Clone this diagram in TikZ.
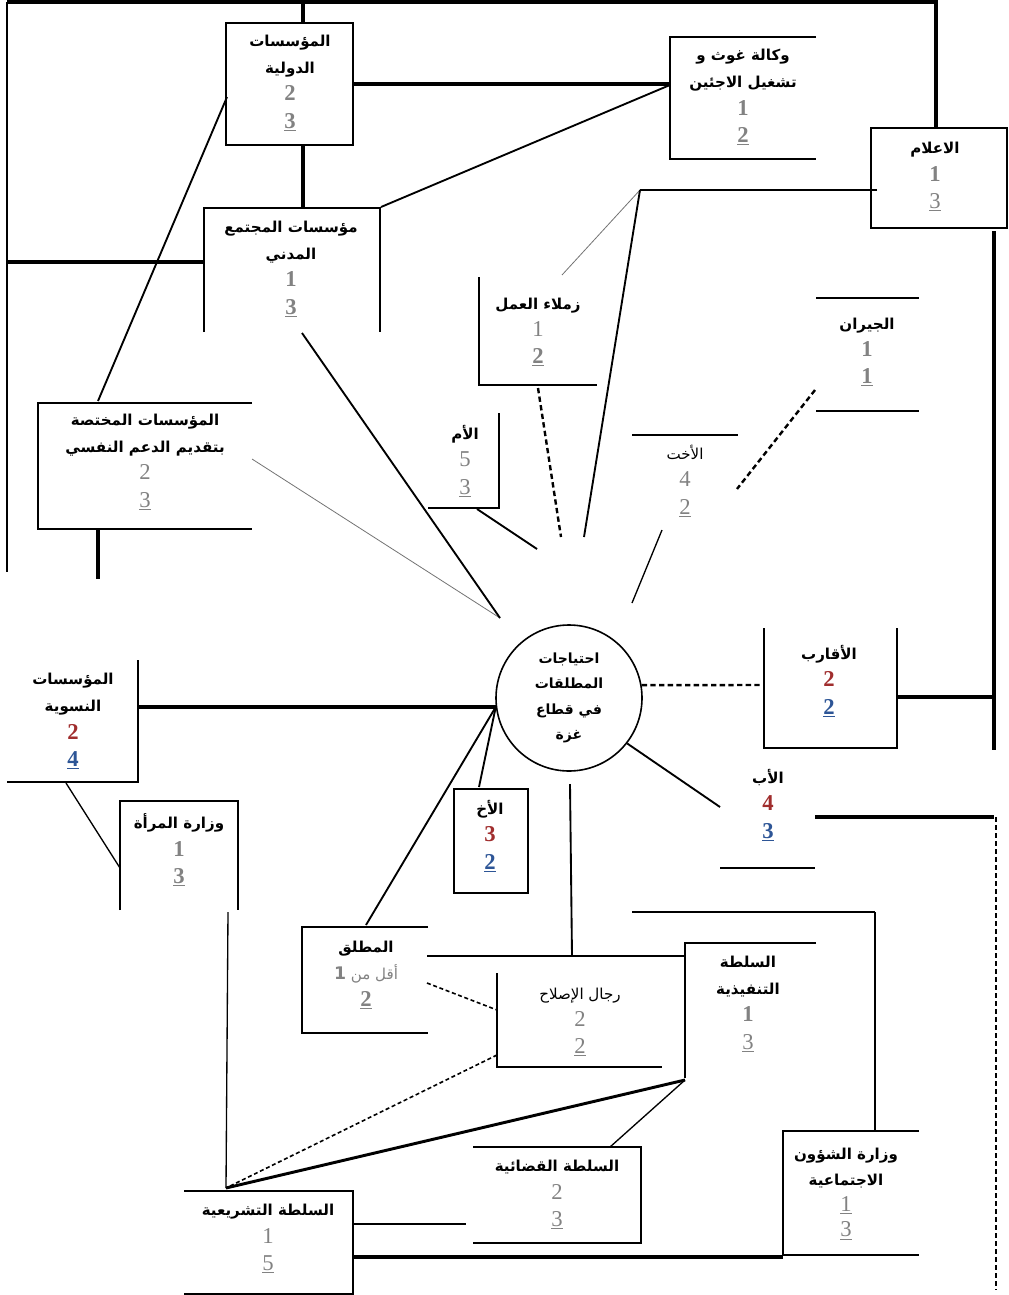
\documentclass[tikz,border=0pt]{standalone}
\usepackage{fontspec}
\setmainfont{Liberation Serif}
\newfontfamily\arabicfont[Script=Arabic]{DejaVu Sans}
\TeXXeTstate=1
\definecolor{ngray}{RGB}{130,130,130}
\definecolor{nred}{RGB}{160,45,45}
\definecolor{nblue}{RGB}{45,85,150}
\newcommand\ARt[1]{\beginR #1\endR}
\newcommand\numf{\rmfamily\fontsize{17}{20.5}\selectfont}
\newcommand\ngb[1]{{\numf\color{ngray}\bfseries #1}}
\newcommand\ngr[1]{{\numf\color{ngray}\mdseries #1}}
\newcommand\ngu[1]{{\numf\color{ngray}\bfseries\underline{#1}}}
\newcommand\ngur[1]{{\numf\color{ngray}\mdseries\underline{#1}}}
\newcommand\nrb[1]{{\numf\color{nred}\bfseries #1}}
\newcommand\nbu[1]{{\numf\color{nblue}\bfseries\underline{#1}}}
\tikzset{
  lbl/.style={align=center, inner sep=0pt, font=\arabicfont\bfseries\fontsize{11.3}{20.5}\selectfont},
  lblr/.style={align=center, inner sep=0pt, font=\arabicfont\mdseries\fontsize{11.3}{20.5}\selectfont},
  boxl/.style={line width=1.7pt},
  thk/.style={line width=2.8pt},
  med/.style={line width=1.4pt},
  thn/.style={line width=1pt},
  hair/.style={line width=0.6pt, draw=black!55},
  dsh/.style={line width=1.8pt, dash pattern=on 4pt off 2.5pt},
  dshthin/.style={line width=1.2pt, dash pattern=on 3pt off 2pt},
}
\begin{document}
\begin{tikzpicture}[x=0.75pt,y=-0.75pt]
\useasboundingbox (0,0) rectangle (1008,1295);

% ---------- text nodes ----------
\node[lbl] (dawliya) at (290,83) {\ARt{المؤسسات}\\\ARt{الدولية}\\\ngb{2}\\\ngu{3}};
\node[lbl] (wakala) at (743,97) {\ARt{وكالة غوث و}\\\ARt{تشغيل الاجئين}\\\ngb{1}\\\ngu{2}};
\node[lbl] (ielam) at (935,177) {\ARt{الاعلام}\\\ngb{1}\\\ngur{3}};
\node[lbl] (mujtama) at (291,269) {\ARt{مؤسسات المجتمع}\\\ARt{المدني}\\\ngb{1}\\\ngu{3}};
\node[lbl] (zumala) at (538,332) {\ARt{زملاء العمل}\\\ngr{1}\\\ngu{2}};
\node[lbl] (jiran) at (867,352) {\ARt{الجيران}\\\ngb{1}\\\ngu{1}};
\node[lbl] (mukhtassa) at (145,462) {\ARt{المؤسسات المختصة}\\\ARt{بتقديم الدعم النفسي}\\\ngr{2}\\\ngur{3}};
\node[lbl] (umm) at (465,461) {\ARt{الأم}\\\ngr{5}\\\ngur{3}};
\node[lblr] (ukht) at (685,481) {\ARt{الأخت}\\\ngr{4}\\\ngur{2}};
\node[lbl, circle, draw, line width=1.2pt, minimum size=109.5pt, font=\arabicfont\bfseries\fontsize{10.5}{19}\selectfont] (needs) at (569,698) {\ARt{احتياجات}\\\ARt{المطلقات}\\\ARt{في قطاع}\\\ARt{غزة}};
\node[lbl] (aqarib) at (829,681) {\ARt{الأقارب}\\\nrb{2}\\\nbu{2}};
\node[lbl] (nisawiya) at (73,721) {\ARt{المؤسسات}\\\ARt{النسوية}\\\nrb{2}\\\nbu{4}};
\node[lbl] (ab) at (768,805) {\ARt{الأب}\\\nrb{4}\\\nbu{3}};
\node[lbl] (akh) at (490,836) {\ARt{الأخ}\\\nrb{3}\\\nbu{2}};
\node[lbl] (mara) at (179,850) {\ARt{وزارة المرأة}\\\ngb{1}\\\ngu{3}};
\node[lbl] (mutallaq) at (366,975) {\ARt{المطلق}\\{\mdseries\color{ngray}\ARt{أقل من {\bfseries\fontsize{13}{20.5}\selectfont 1}}}\\\ngu{2}};
\node[lblr] (islah) at (580,1022) {\ARt{رجال الإصلاح}\\\ngr{2}\\\ngur{2}};
\node[lbl] (tanfidh) at (748,1004) {\ARt{السلطة}\\\ARt{التنفيذية}\\\ngb{1}\\\ngur{3}};
\node[lbl] (qadaiya) at (557,1195) {\ARt{السلطة القضائية}\\\ngr{2}\\\ngur{3}};
\node[lbl, font=\arabicfont\bfseries\fontsize{11.3}{19.3}\selectfont] (shuoon) at (846,1194) {\ARt{وزارة الشؤون}\\\ARt{الاجتماعية}\\\ngur{1}\\\ngur{3}};
\node[lbl] (tashri) at (268,1239) {\ARt{السلطة التشريعية}\\\ngr{1}\\\ngur{5}};

% ---------- box outlines ----------
\draw[boxl] (226,23) rectangle (353,145);
\draw[boxl] (816,37) -- (670,37) -- (670,159) -- (816,159);
\draw[boxl] (871,128) rectangle (1007,228);
\draw[boxl] (204,332) -- (204,208) -- (380,208) -- (380,332);
\draw[boxl] (479,277) -- (479,385) -- (597,385);
\draw[boxl] (816,298) -- (919,298);
\draw[boxl] (816,411) -- (919,411);
\draw[boxl] (252,403) -- (38,403) -- (38,529) -- (252,529);
\draw[boxl] (428,508) -- (499,508) -- (499,413);
\draw[boxl] (632,435) -- (738,435);
\draw[boxl] (764,628) -- (764,748) -- (897,748) -- (897,628);
\draw[boxl] (138,660) -- (138,782) -- (7,782);
\draw[boxl] (720,868) -- (815,868);
\draw[boxl] (454,789) rectangle (528,893);
\draw[boxl] (120,910) -- (120,801) -- (238,801) -- (238,910);
\draw[boxl] (428,927) -- (302,927) -- (302,1033) -- (428,1033);
\draw[boxl] (497,973) -- (497,1067) -- (662,1067);
\draw[boxl] (816,943) -- (685,943) -- (685,1078);
\draw[boxl] (473,1147) -- (641,1147) -- (641,1243) -- (473,1243);
\draw[boxl] (919,1131) -- (783,1131) -- (783,1255) -- (919,1255);
\draw[boxl] (184,1191) -- (353,1191) -- (353,1294) -- (184,1294);

% ---------- connector end points ----------
\coordinate (tl) at (7,2);
\coordinate (tr) at (936,2);
\coordinate (trb) at (936,128);
\coordinate (tdaw) at (303,2);
\coordinate (dawT) at (303,23);
\coordinate (dawB) at (303,145);
\coordinate (mujT) at (303,208);
\coordinate (dawR) at (353,84);
\coordinate (wakL) at (670,84);
\coordinate (wakL2) at (670,85);
\coordinate (mujTR) at (381,207);
\coordinate (lft) at (7,262);
\coordinate (mujL) at (204,262);
\coordinate (lftB) at (7,572);
\coordinate (dawLL) at (227,97);
\coordinate (mukT) at (98,401);
\coordinate (mukB) at (98,529);
\coordinate (mukBB) at (98,579);
\coordinate (mukR) at (252,459);
\coordinate (hubA) at (500,618);
\coordinate (mujB) at (302,333);
\coordinate (ummB) at (477,509);
\coordinate (hubB) at (537,549);
\coordinate (zumB) at (538,388);
\coordinate (hubC) at (561,537);
\coordinate (knee) at (640,190);
\coordinate (ielL) at (877,190);
\coordinate (zumT) at (562,275);
\coordinate (hubD) at (584,537);
\coordinate (rtT) at (994,231);
\coordinate (rtB) at (994,750);
\coordinate (jirL) at (815,390);
\coordinate (ukhtR) at (737,489);
\coordinate (ukhtB) at (662,530);
\coordinate (hubE) at (632,603);
\coordinate (aqL) at (764,685);
\coordinate (aqR) at (897,697);
\coordinate (rtA) at (994,697);
\coordinate (abL) at (720,807);
\coordinate (abR) at (815,817);
\coordinate (rtC) at (994,817);
\coordinate (rtCd) at (996,817);
\coordinate (rtD) at (996,1290);
\coordinate (needsB) at (570,784);
\coordinate (islT) at (572,956);
\coordinate (mutR) at (427,956);
\coordinate (tanL) at (685,956);
\coordinate (shA) at (632,912);
\coordinate (shB) at (875,912);
\coordinate (shuT) at (875,1131);
\coordinate (mutR2) at (427,983);
\coordinate (islL) at (497,1010);
\coordinate (islL2) at (497,1055);
\coordinate (tasT) at (226,1188);
\coordinate (mutT) at (366,925);
\coordinate (nisR) at (138,707);
\coordinate (akhT) at (479,787);
\coordinate (nisB) at (66,783);
\coordinate (maraL) at (120,868);
\coordinate (maraB) at (228,912);
\coordinate (tanB) at (685,1080);
\coordinate (tasR) at (353,1224);
\coordinate (qadL) at (466,1224);
\coordinate (tasR2) at (353,1257);
\coordinate (shuL) at (783,1257);
\coordinate (qadT) at (610,1147);

% ---------- connectors ----------
\draw[thk] (tl) -- (tr) -- (trb);
\draw[thn] (tl) -- (lftB);
\draw[thk] (tdaw) -- (dawT);
\draw[thk] (dawB) -- (mujT);
\draw[thk] (dawR) -- (wakL);
\draw[med] (mujTR) -- (wakL2);
\draw[thk] (lft) -- (mujL);
\draw[med] (dawLL) -- (mukT);
\draw[thk] (mukB) -- (mukBB);
\draw[hair] (mukR) -- (hubA);
\draw[med] (mujB) -- (hubA);
\draw[med] (ummB) -- (hubB);
\draw[dsh] (zumB) -- (hubC);
\draw[thn] (ielL) -- (knee);
\draw[hair] (knee) -- (zumT);
\draw[med] (knee) -- (hubD);
\draw[thk] (rtT) -- (rtB);
\draw[dsh] (jirL) -- (ukhtR);
\draw[thn] (ukhtB) -- (hubE);
\draw[dsh] (needs.10) -- (aqL);
\draw[thk] (aqR) -- (rtA);
\draw[med] (needs.-38) -- (abL);
\draw[thk] (abR) -- (rtC);
\draw[line width=1.6pt, dash pattern=on 4pt off 2pt] (rtCd) -- (rtD);
\draw[med] (needsB) -- (islT);
\draw[thn] (mutR) -- (tanL);
\draw[thn] (shA) -- (shB);
\draw[line width=1.9pt] (shB) -- (shuT);
\draw[dshthin] (mutR2) -- (islL);
\draw[dshthin] (islL2) -- (tasT);
\draw[med] (mutT) -- (needs.187);
\draw[thk] (nisR) -- (needs.187);
\draw[med] (akhT) -- (needs.187);
\draw[thn] (nisB) -- (maraL);
\draw[thn] (maraB) -- (tasT);
\draw[line width=2.2pt] (tasT) -- (tanB);
\draw[thn] (tasR) -- (qadL);
\draw[line width=2.6pt] (tasR2) -- (shuL);
\draw[thn] (tanB) -- (qadT);
\end{tikzpicture}
\end{document}
